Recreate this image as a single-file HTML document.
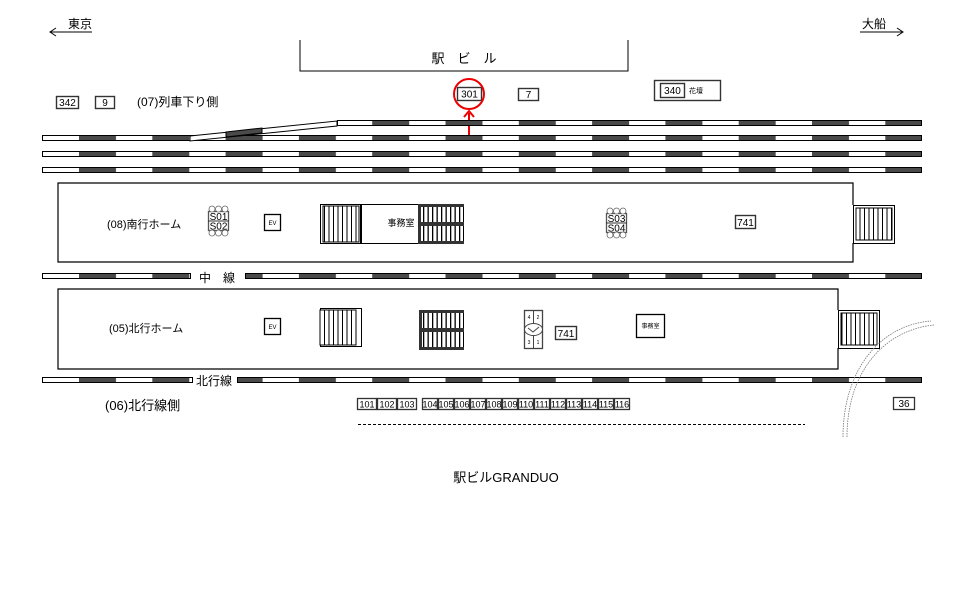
<!DOCTYPE html>
<html><head><meta charset="utf-8"><style>
body{margin:0;background:#fff}
svg{display:block}
text{font-family:"Liberation Sans","Noto Sans CJK JP",sans-serif;fill:#000}
</style></head><body>
<svg width="960" height="605" viewBox="0 0 960 605" xmlns="http://www.w3.org/2000/svg">
<defs>
<pattern id="trk" patternUnits="userSpaceOnUse" x="79" y="0" width="73.3" height="400">
<rect x="0" y="0" width="73.3" height="400" fill="#fff"/>
<rect x="0" y="0" width="37" height="400" fill="#4a4a4a"/>
</pattern>
<pattern id="stp" patternUnits="userSpaceOnUse" width="4.5" height="10">
<rect width="4.5" height="10" fill="#fff"/><rect width="1" height="10" fill="#000"/>
</pattern>
<pattern id="stpd" patternUnits="userSpaceOnUse" width="4.5" height="10">
<rect width="4.5" height="10" fill="#fff"/><rect width="1.3" height="10" fill="#000"/>
</pattern>
</defs>
<g stroke="#000" stroke-width="1" fill="none">
<line x1="50" y1="32" x2="92" y2="32"/><polyline points="56,28 50,32 56,36"/>
<line x1="860" y1="32" x2="903" y2="32"/><polyline points="897,28 903,32 897,36"/>
<polyline points="300,40 300,71 628,71 628,40"/>
</g>
<text x="68" y="28" font-size="12">東京</text>
<text x="862" y="28" font-size="12">大船</text>
<text x="464" y="63" font-size="13" text-anchor="middle">駅　ビ　ル</text>

<g font-size="10" text-anchor="middle" stroke-width="1.4">
<rect x="56.5" y="96.5" width="22" height="12" fill="#fff" stroke="#333"/><text x="67.5" y="106">342</text>
<rect x="95.5" y="96.5" width="19" height="12" fill="#fff" stroke="#333"/><text x="105" y="106">9</text>
<rect x="457.5" y="87.5" width="24" height="13" fill="#fff" stroke="#333"/><text x="469.5" y="97.5">301</text>
<rect x="518.5" y="88.5" width="20" height="12" fill="#fff" stroke="#333"/><text x="528.5" y="98">7</text>
<rect x="654.5" y="80.5" width="66" height="20" fill="#fff" stroke="#333"/>
<rect x="660.5" y="83.5" width="24" height="14" fill="#fff" stroke="#333"/><text x="672.5" y="94">340</text>
</g>
<text x="689" y="93" font-size="7">花壇</text>
<text x="137" y="106" font-size="12">(07)列車下り側</text>
<circle cx="469" cy="94" r="15" fill="none" stroke="#e00" stroke-width="2"/>
<line x1="469" y1="138" x2="469" y2="113" stroke="#e00" stroke-width="2"/>
<polyline points="464,117 469,111 474,117" fill="none" stroke="#e00" stroke-width="2"/>

<g stroke="#000" stroke-width="1" fill="url(#trk)">
<rect x="337.5" y="120.5" width="584" height="5"/>
<rect x="42.5" y="135.5" width="879" height="5"/>
<rect x="42.5" y="151.5" width="879" height="5"/>
<rect x="42.5" y="167.5" width="879" height="5"/>
<polygon points="190,136 337,121 337,126 190,141" fill="#fff"/>
<polygon points="226,132 262,128 262,133 226,137" fill="#4a4a4a"/>
<rect x="42.5" y="273.5" width="148" height="5"/>
<rect x="245.5" y="273.5" width="676" height="5"/>
<rect x="42.5" y="377.5" width="150" height="5"/>
<rect x="237.5" y="377.5" width="684" height="5"/>
</g>
<text x="217" y="282" font-size="12" text-anchor="middle">中　線</text>
<text x="214" y="385" font-size="12" text-anchor="middle">北行線</text>

<g fill="none" stroke="#000" stroke-width="1.2">
<polyline points="853,205 853,183 58,183 58,262 853,262 853,243"/>
<polyline points="838,310 838,289 58,289 58,369 838,369 838,348"/>
</g>
<rect x="853.5" y="205.5" width="41" height="38" fill="#fff" stroke="#000"/>
<rect x="856" y="208" width="36" height="32" fill="url(#stp)" stroke="#000"/>
<rect x="838.5" y="310.5" width="41" height="38" fill="#fff" stroke="#000"/>
<rect x="841" y="313" width="36" height="32" fill="url(#stp)" stroke="#000"/>

<text x="107" y="228" font-size="11">(08)南行ホーム</text>
<text x="109" y="332" font-size="11">(05)北行ホーム</text>

<g font-size="10" text-anchor="middle">
<rect x="208.5" y="211.5" width="20" height="19" fill="#fff" stroke="#555" stroke-width="1.3"/>
<line x1="208" y1="221" x2="229" y2="221" stroke="#333"/>
<text x="218.5" y="220">S01</text><text x="218.5" y="229.5">S02</text>
<rect x="606.5" y="213.5" width="20" height="19" fill="#fff" stroke="#555" stroke-width="1.3"/>
<line x1="606" y1="223" x2="627" y2="223" stroke="#333"/>
<text x="616.5" y="222">S03</text><text x="616.5" y="231.5">S04</text>
</g>
<g fill="#fff" stroke="#666" stroke-width="0.8">
<circle cx="212" cy="209" r="3"/><circle cx="218.5" cy="209" r="3"/><circle cx="225" cy="209" r="3"/>
<circle cx="212" cy="233" r="3"/><circle cx="218.5" cy="233" r="3"/><circle cx="225" cy="233" r="3"/>
<circle cx="610" cy="211" r="3"/><circle cx="616.5" cy="211" r="3"/><circle cx="623" cy="211" r="3"/>
<circle cx="610" cy="235" r="3"/><circle cx="616.5" cy="235" r="3"/><circle cx="623" cy="235" r="3"/>
</g>
<rect x="264.5" y="214.5" width="16" height="16" fill="#fff" stroke="#000" stroke-width="1.3"/><text x="272.5" y="225" font-size="6" text-anchor="middle">EV</text>
<rect x="264.5" y="318.5" width="16" height="16" fill="#fff" stroke="#000" stroke-width="1.3"/><text x="272.5" y="329" font-size="6" text-anchor="middle">EV</text>
<rect x="735.5" y="215.5" width="20" height="13" fill="#fff" stroke="#333" stroke-width="1.4"/><text x="745.5" y="226" font-size="10" text-anchor="middle">741</text>
<rect x="555.5" y="326.5" width="21" height="13" fill="#fff" stroke="#333" stroke-width="1.4"/><text x="566" y="337" font-size="10" text-anchor="middle">741</text>

<rect x="320.5" y="204.5" width="40" height="39" fill="#fff" stroke="#000"/>
<rect x="323" y="206" width="36" height="36" fill="url(#stp)" stroke="#000"/>
<rect x="361.5" y="204.5" width="57" height="39" fill="#fff" stroke="#000"/>
<text x="401" y="226" font-size="9" text-anchor="middle">事務室</text>
<rect x="418.5" y="204.5" width="45" height="39" fill="url(#stpd)" stroke="#000"/>
<rect x="418" y="204" width="46" height="3" fill="#333"/><rect x="418" y="222" width="46" height="4" fill="#333"/><rect x="418" y="241" width="46" height="3" fill="#333"/><rect x="418" y="204" width="3" height="40" fill="#333"/>

<rect x="320.5" y="308.5" width="41" height="38" fill="#fff" stroke="#000"/>
<rect x="320" y="310" width="36" height="35" fill="url(#stp)" stroke="#000"/>
<rect x="419.5" y="310.5" width="44" height="39" fill="url(#stpd)" stroke="#000"/>
<rect x="419" y="310" width="45" height="3" fill="#333"/><rect x="419" y="328" width="45" height="4" fill="#333"/><rect x="419" y="347" width="45" height="3" fill="#333"/><rect x="419" y="310" width="3" height="40" fill="#333"/>

<rect x="524.5" y="310.5" width="18" height="38" fill="#fff" stroke="#444" stroke-width="1.3"/>
<line x1="533.5" y1="310" x2="533.5" y2="349" stroke="#444"/>
<ellipse cx="533.5" cy="329.5" rx="9" ry="6" fill="#fff" stroke="#444"/>
<polyline points="528,328 533,332 539,327" fill="none" stroke="#444"/>
<text x="529" y="319" font-size="5" text-anchor="middle">4</text><text x="538" y="319" font-size="5" text-anchor="middle">2</text>
<text x="529" y="344" font-size="5" text-anchor="middle">3</text><text x="538" y="344" font-size="5" text-anchor="middle">1</text>

<rect x="636.5" y="314.5" width="28" height="23" fill="#fff" stroke="#000" stroke-width="1.3"/>
<text x="650.5" y="328" font-size="6" text-anchor="middle">事務室</text>

<g fill="none" stroke="#777" stroke-width="0.8" stroke-dasharray="1.5,1">
<path d="M843,437 C843,370 880,325 931,321"/>
<path d="M847,437 C847,372 884,330 934,325"/>
</g>

<text x="105" y="410" font-size="13">(06)北行線側</text>
<g font-size="9" text-anchor="middle" fill="#fff" stroke="#333" stroke-width="1.3">
<rect x="357.5" y="398.5" width="19" height="11"/><rect x="377.5" y="398.5" width="19" height="11"/><rect x="397.5" y="398.5" width="19" height="11"/>
<rect x="422.5" y="398.5" width="15" height="11"/><rect x="438.5" y="398.5" width="15" height="11"/><rect x="454.5" y="398.5" width="15" height="11"/><rect x="470.5" y="398.5" width="15" height="11"/><rect x="486.5" y="398.5" width="15" height="11"/><rect x="502.5" y="398.5" width="15" height="11"/><rect x="518.5" y="398.5" width="15" height="11"/><rect x="534.5" y="398.5" width="15" height="11"/><rect x="550.5" y="398.5" width="15" height="11"/><rect x="566.5" y="398.5" width="15" height="11"/><rect x="582.5" y="398.5" width="15" height="11"/><rect x="598.5" y="398.5" width="15" height="11"/><rect x="614.5" y="398.5" width="15" height="11"/>
<rect x="893.5" y="397.5" width="21" height="12"/>
</g>
<g font-size="9" text-anchor="middle">
<text x="367" y="407.5">101</text><text x="387" y="407.5">102</text><text x="407" y="407.5">103</text>
<text x="430" y="407.5">104</text><text x="446" y="407.5">105</text><text x="462" y="407.5">106</text><text x="478" y="407.5">107</text><text x="494" y="407.5">108</text><text x="510" y="407.5">109</text><text x="526" y="407.5">110</text><text x="542" y="407.5">111</text><text x="558" y="407.5">112</text><text x="574" y="407.5">113</text><text x="590" y="407.5">114</text><text x="606" y="407.5">115</text><text x="622" y="407.5">116</text>
<text x="904" y="407" font-size="10">36</text>
</g>
<line x1="358" y1="424.5" x2="805" y2="424.5" stroke="#000" stroke-dasharray="3,2"/>
<text x="506" y="482" font-size="13" text-anchor="middle">駅ビルGRANDUO</text>
</svg>
</body></html>
